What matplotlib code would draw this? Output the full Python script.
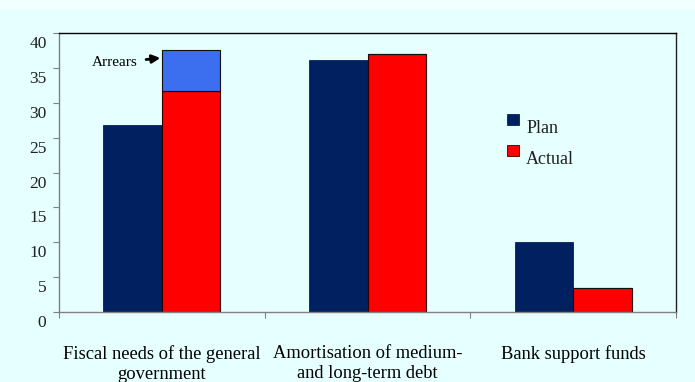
import matplotlib
matplotlib.use("Agg")
import matplotlib.pyplot as plt
import matplotlib.transforms as mtransforms
from matplotlib.patches import Rectangle

# financing requirements, plan vs actual
categories = ["Fiscal needs of the general\ngovernment",
              "Amortisation of medium-\nand long-term debt",
              "Bank support funds"]
plan = [26.8, 36.2, 10.0]
actual = [31.7, 37.0, 3.4]
arrears = [5.9, 0.0, 0.0]

BG = "#E6FFFF"
NAVY = "#002060"
RED = "#FF0000"
BLUE = "#3C6EF0"

plt.rcParams["font.family"] = ["Liberation Serif", "DejaVu Serif"]

fig = plt.figure(figsize=(6.95, 3.82), dpi=100)
fig.patch.set_facecolor(BG)
# slightly paler strip along the very top edge
fig.patches.append(Rectangle((0, 1 - 9 / 382), 1, 9 / 382, transform=fig.transFigure,
                             facecolor="#F2FFFF", edgecolor="none", zorder=0))

ax = fig.add_axes([59 / 695, 1 - 312 / 382, (676 - 59) / 695, (312 - 33) / 382])
ax.set_facecolor(BG)

x = list(range(len(categories)))
w = 0.285
ax.bar([i - w for i in x], plan, width=w, align="edge", color=NAVY,
       edgecolor=NAVY, linewidth=0.6)
ax.bar(x, actual, width=w, align="edge", color=RED,
       edgecolor="#300000", linewidth=0.8)
ax.bar(x, arrears, bottom=actual, width=w, align="edge", color=BLUE,
       edgecolor="#101010", linewidth=0.8)

ax.annotate("Arrears", xy=(-0.007, actual[0] + arrears[0] * 0.8),
            xytext=(-0.117, actual[0] + arrears[0] * 0.68),
            fontsize=11, va="center", ha="right",
            arrowprops=dict(arrowstyle="-|>", color="black", lw=2.0,
                            mutation_scale=12, shrinkA=4, shrinkB=0))

ax.set_xlim(-0.5, 2.5)
ax.set_ylim(0, 40)
ax.set_yticks(range(0, 41, 5))
ax.set_xticks([-0.5, 0.5, 1.5, 2.5], minor=False)
ax.set_xticklabels([])
ax.set_xticks(x, minor=True)
ax.set_xticklabels(categories, minor=True, fontsize=13.3, linespacing=1.2)
ax.tick_params(axis="x", which="minor", length=0, pad=24)
ax.tick_params(axis="x", which="major", length=4, color="#808080", direction="out")
ax.tick_params(axis="y", length=4, color="#808080", pad=5, labelsize=12.5,
               labelcolor="#202020")

# value labels sit a little below their tick marks
shift = mtransforms.ScaledTranslation(0, -0.09, fig.dpi_scale_trans)
for lbl in ax.get_yticklabels():
    lbl.set_transform(lbl.get_transform() + shift)

ax.spines["left"].set_color("#808080")
ax.spines["bottom"].set_color("#808080")
ax.spines["top"].set_color("black")
ax.spines["right"].set_color("#202020")
for s in ax.spines.values():
    s.set_linewidth(1.0)

# legend drawn by hand: swatch sits above-left of its label
for k, (lab, col) in enumerate([("Plan", NAVY), ("Actual", RED)]):
    y0 = 0.670 - k * 0.111
    ax.add_patch(Rectangle((0.726, y0), 0.0195, 0.039, transform=ax.transAxes,
                           facecolor=col, edgecolor="#400000" if k else col,
                           linewidth=0.6, clip_on=False))
    ax.text(0.757, y0 - 0.011, lab, transform=ax.transAxes, fontsize=13,
            va="center", ha="left", color="#202020")

fig.savefig("out.png", dpi=100, facecolor=BG)
